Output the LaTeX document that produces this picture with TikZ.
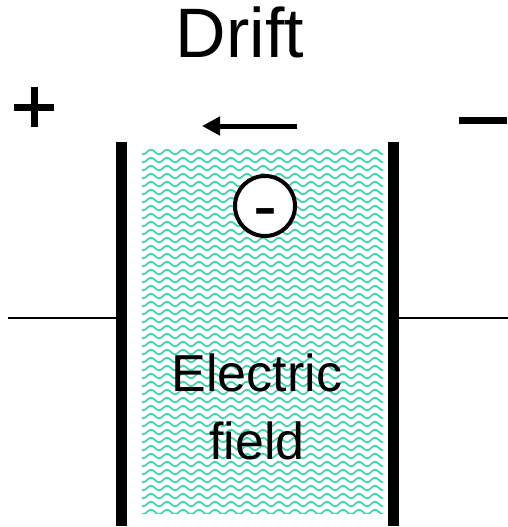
\documentclass[tikz,border=0pt]{standalone}
\usepackage{fontspec}
\setmainfont{Liberation Sans}
\usetikzlibrary{arrows.meta,decorations.pathmorphing}
\definecolor{fieldgreen}{RGB}{60,212,170}
\tikzset{
  plate/.style={fill=black, draw=none, minimum width=11pt, minimum height=384pt, inner sep=0pt},
  wire/.style={line width=1.5pt, black},
  wave/.style={fieldgreen, line width=1.7pt, decorate, decoration={snake, segment length=16pt, amplitude=2.3pt}},
  signbar/.style={line width=7pt, black},
  bigtext/.style={font=\fontsize{70pt}{80pt}\selectfont, inner sep=0pt},
  labeltext/.style={font=\fontsize{52pt}{68pt}\selectfont, inner sep=0pt, align=center},
}
\begin{document}
\begin{tikzpicture}[x=1pt,y=-1pt]
\useasboundingbox (0,0) rectangle (508,527);
% field pattern
\begin{scope}
  \clip (142,149) rectangle (383,513);
  \foreach \r in {0,...,45}{
    \draw[wave] (130,{152+8*\r}) -- (400,{152+8*\r});
  }
\end{scope}
% plates
\node[plate] (lplate) at (121.5,334) {};
\node[plate] (rplate) at (393,334) {};
% wires
\coordinate (lwire) at (8,318);
\coordinate (rwire) at (508,318);
\draw[wire] (lwire) -- (lwire -| lplate.west);
\draw[wire] (rwire) -- (rwire -| rplate.east);
% plus and minus signs
\coordinate (plusc) at (34,107);
\draw[signbar] ([xshift=-20pt]plusc) -- ([xshift=20pt]plusc);
\draw[signbar] ([yshift=-20pt]plusc) -- ([yshift=20pt]plusc);
\coordinate (minusl) at (459,120.5);
\coordinate (minusr) at (507,120.5);
\draw[signbar] (minusl) -- (minusr);
% drift label and arrow
\node[bigtext, anchor=base] (drift) at (240,57) {Drift};
\coordinate (arrstart) at (297,126);
\coordinate (arrend) at (202,126);
\draw[line width=5pt, -{Triangle[length=18pt,width=18pt]}] (arrstart) -- (arrend);
% electron
\node[circle, draw, line width=4pt, fill=white, minimum size=60pt, inner sep=0pt] (electron) at (265,206) {};
\node[font=\fontsize{72pt}{80pt}\selectfont, inner sep=0pt, anchor=base] (esign) at (265,230.7) {-};
% field label
\node[labeltext, anchor=north] (flabel) at (257,354) {Electric\\field};
\end{tikzpicture}
\end{document}
